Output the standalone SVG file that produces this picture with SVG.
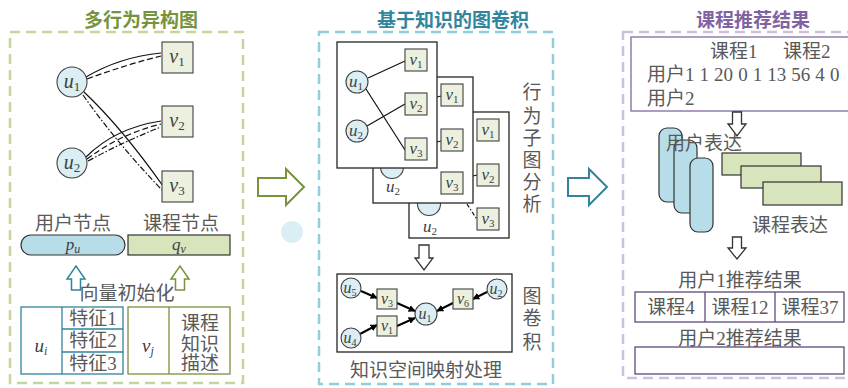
<svg xmlns="http://www.w3.org/2000/svg" width="848" height="388" viewBox="0 0 848 388">
<defs>
<style>
.t{font-family:"Liberation Serif","Noto Sans CJK SC",serif;fill:#595959;font-size:19px}
.ttl{font-family:"Noto Sans CJK SC",sans-serif;font-weight:bold;font-size:19px}
.m{font-family:"Liberation Serif",serif;font-style:italic;fill:#404040}
.s{font-style:normal}
.cir{fill:#daeef3;stroke:#404040;stroke-width:1.1}
.sq{fill:#ebf1de;stroke:#404040;stroke-width:1.1}
.box{fill:#fff;stroke:#262626;stroke-width:1.3}
.e{fill:none;stroke:#111;stroke-width:1.2}
.ar{fill:#fff;stroke:#333;stroke-width:1.3}
</style>
<marker id="ah" viewBox="0 0 10 10" refX="9" refY="5" markerWidth="7" markerHeight="7" orient="auto" markerUnits="userSpaceOnUse">
<path d="M0,0 L10,5 L0,10 Z" fill="#000"/>
</marker>
</defs>
<rect width="848" height="388" fill="#fff"/>
<circle cx="292" cy="232" r="11" fill="#daeef3"/>

<!-- Panel 1 -->
<g id="panel1">
<rect x="10" y="32" width="233" height="351" fill="none" stroke="#c3d69b" stroke-width="2.5" stroke-dasharray="10 6"/>
<text class="ttl" x="141" y="27" text-anchor="middle" fill="#77933c">多行为异构图</text>
</g>
<g id="connectors1">
<path class="e" d="M86,77 Q120,57 161,53"/>
<path class="e" d="M87,79 Q125,65 161,56" stroke-width="2" stroke-dasharray="6 3"/>
<path class="e" d="M84,92 Q122,128 163,186"/>
<path class="e" d="M83,95 Q116,142 162,190" stroke-dasharray="6 2 1.5 2"/>
<path class="e" d="M86,157 Q115,128 161,121"/>
<path class="e" d="M87,159 Q120,134 161,124" stroke-width="2" stroke-dasharray="6 3"/>
<path class="e" d="M88,161 Q125,141 161,127" stroke-dasharray="6 2 1.5 2"/>
</g>
<g id="p1_u1"><circle class="cir" cx="72" cy="82" r="15"/><text class="m" x="72" y="88" font-size="20" text-anchor="middle">u<tspan class="s" font-size="13" dy="3">1</tspan></text></g>
<g id="p1_u2"><circle class="cir" cx="72" cy="163" r="15"/><text class="m" x="72" y="169" font-size="20" text-anchor="middle">u<tspan class="s" font-size="13" dy="3">2</tspan></text></g>
<g id="p1_v1"><rect class="sq" x="162" y="42" width="31" height="31"/><text class="m" x="177" y="63" font-size="20" text-anchor="middle">v<tspan class="s" font-size="13" dy="3">1</tspan></text></g>
<g id="p1_v2"><rect class="sq" x="162" y="106" width="31" height="31"/><text class="m" x="177" y="127" font-size="20" text-anchor="middle">v<tspan class="s" font-size="13" dy="3">2</tspan></text></g>
<g id="p1_v3"><rect class="sq" x="162" y="171" width="31" height="31"/><text class="m" x="177" y="192" font-size="20" text-anchor="middle">v<tspan class="s" font-size="13" dy="3">3</tspan></text></g>
<g id="p1_labels">
<text class="t" x="73" y="230" text-anchor="middle">用户节点</text>
<text class="t" x="181" y="230" text-anchor="middle">课程节点</text>
</g>
<g id="p1_pu"><rect x="21" y="235" width="104" height="20" rx="10" fill="#b7dde8" stroke="#333" stroke-width="1.2"/><text class="m" x="73" y="250" font-size="17" text-anchor="middle">p<tspan font-size="12" dy="3">u</tspan></text></g>
<g id="p1_qv"><rect x="128" y="235" width="102" height="20" fill="#d7e4bc" stroke="#333" stroke-width="1.2"/><text class="m" x="179" y="250" font-size="17" text-anchor="middle">q<tspan font-size="12" dy="3">v</tspan></text></g>
<g id="p1_up">
<path d="M71.5,290 V279 H67 L76,266 L85,279 H80.5 V290 Z" fill="#fff" stroke="#31849b" stroke-width="1.5"/>
<path d="M175.5,290 V279 H171 L180,266 L189,279 H184.5 V290 Z" fill="#fff" stroke="#77933c" stroke-width="1.5"/>
<text class="t" x="127" y="300" text-anchor="middle">向量初始化</text>
</g>
<g id="p1_tableU" fill="none" stroke="#31849b" stroke-width="1.3">
<rect x="21" y="307" width="102" height="67"/>
<line x1="62" y1="307" x2="62" y2="374"/>
<line x1="62" y1="329" x2="123" y2="329"/>
<line x1="62" y1="352" x2="123" y2="352"/>
</g>
<g id="p1_tableU_text">
<text class="m" x="41" y="352" font-size="19" text-anchor="middle">u<tspan font-size="12" dy="3">i</tspan></text>
<text class="t" x="93" y="325" text-anchor="middle">特征1</text>
<text class="t" x="93" y="347" text-anchor="middle">特征2</text>
<text class="t" x="93" y="370" text-anchor="middle">特征3</text>
</g>
<g id="p1_tableV" fill="none" stroke="#77933c" stroke-width="1.3">
<rect x="128" y="307" width="102" height="67"/>
<line x1="169" y1="307" x2="169" y2="374"/>
</g>
<g id="p1_tableV_text">
<text class="m" x="148" y="352" font-size="19" text-anchor="middle">v<tspan font-size="12" dy="3">j</tspan></text>
<text class="t" x="200" y="330" text-anchor="middle">课程</text>
<text class="t" x="200" y="351" text-anchor="middle">知识</text>
<text class="t" x="200" y="370" text-anchor="middle">描述</text>
</g>

<g id="arrow12"><path d="M258,178 H286 V169 L304,187 L286,205 V196 H258 Z" fill="#fff" stroke="#77933c" stroke-width="2"/></g>

<!-- Panel 2 -->
<g id="panel2">
<rect x="319" y="32" width="234" height="352" fill="none" stroke="#92cddc" stroke-width="2.5" stroke-dasharray="10 6"/>
<text class="ttl" x="453" y="27" text-anchor="middle" fill="#31859c">基于知识的图卷积</text>
</g>
<g id="stack3">
<rect class="box" x="409" y="112" width="100" height="126"/>
<circle class="cir" cx="429" cy="204" r="11.5"/>
<text class="m" x="430" y="232" font-size="17" text-anchor="middle" fill="#595959">u<tspan class="s" font-size="11" dy="3">2</tspan></text>
<rect class="sq" x="477" y="119" width="22" height="22"/><text class="m" x="488" y="135" font-size="17" text-anchor="middle">v<tspan class="s" font-size="11" dy="3">1</tspan></text>
<line class="e" x1="473" y1="176" x2="477" y2="175"/>
<rect class="sq" x="477" y="164" width="22" height="22"/><text class="m" x="488" y="180" font-size="17" text-anchor="middle">v<tspan class="s" font-size="11" dy="3">2</tspan></text>
<line class="e" x1="467" y1="204" x2="478" y2="221" stroke-dasharray="4 2 1.5 2"/>
<rect class="sq" x="477" y="208" width="22" height="22"/><text class="m" x="488" y="224" font-size="17" text-anchor="middle">v<tspan class="s" font-size="11" dy="3">3</tspan></text>
</g>
<g id="stack2">
<rect class="box" x="373" y="77" width="100" height="126"/>
<circle class="cir" cx="392" cy="167" r="11.5"/>
<text class="m" x="393" y="192" font-size="17" text-anchor="middle" fill="#595959">u<tspan class="s" font-size="11" dy="3">2</tspan></text>
<line class="e" x1="437" y1="97" x2="441" y2="96"/>
<rect class="sq" x="441" y="84" width="22" height="22"/><text class="m" x="452" y="100" font-size="17" text-anchor="middle">v<tspan class="s" font-size="11" dy="3">1</tspan></text>
<line class="e" x1="437" y1="142" x2="441" y2="141"/>
<rect class="sq" x="441" y="129" width="22" height="22"/><text class="m" x="452" y="145" font-size="17" text-anchor="middle">v<tspan class="s" font-size="11" dy="3">2</tspan></text>
<rect class="sq" x="441" y="172" width="22" height="22"/><text class="m" x="452" y="188" font-size="17" text-anchor="middle">v<tspan class="s" font-size="11" dy="3">3</tspan></text>
</g>
<g id="stack1">
<rect class="box" x="337" y="42" width="100" height="126"/>
<line class="e" x1="368" y1="78" x2="405" y2="61"/>
<line class="e" x1="366" y1="89" x2="405" y2="150"/>
<line class="e" x1="367" y1="126" x2="405" y2="104"/>
<circle class="cir" cx="357" cy="82" r="11"/><text class="m" x="356" y="87" font-size="17" text-anchor="middle">u<tspan class="s" font-size="11" dy="3">1</tspan></text>
<circle class="cir" cx="357" cy="131" r="11"/><text class="m" x="356" y="136" font-size="17" text-anchor="middle">u<tspan class="s" font-size="11" dy="3">2</tspan></text>
<rect class="sq" x="405" y="49" width="22" height="22"/><text class="m" x="416" y="65" font-size="17" text-anchor="middle">v<tspan class="s" font-size="11" dy="3">1</tspan></text>
<rect class="sq" x="405" y="93" width="22" height="22"/><text class="m" x="416" y="109" font-size="17" text-anchor="middle">v<tspan class="s" font-size="11" dy="3">2</tspan></text>
<rect class="sq" x="405" y="138" width="22" height="22"/><text class="m" x="416" y="154" font-size="17" text-anchor="middle">v<tspan class="s" font-size="11" dy="3">3</tspan></text>
</g>
<g id="p2_vtext1">
<text class="t" x="532" y="99" text-anchor="middle">行</text>
<text class="t" x="532" y="123" text-anchor="middle">为</text>
<text class="t" x="532" y="145" text-anchor="middle">子</text>
<text class="t" x="532" y="167" text-anchor="middle">图</text>
<text class="t" x="532" y="189" text-anchor="middle">分</text>
<text class="t" x="532" y="211" text-anchor="middle">析</text>
</g>
<g id="p2_down"><path class="ar" d="M419,245 H429 V258 H433 L424,270 L415,258 H419 Z"/></g>
<g id="gcn">
<rect class="box" x="337" y="274" width="175" height="78"/>
</g>
<g id="gcn_connectors" stroke="#000" stroke-width="2" fill="none" marker-end="url(#ah)">
<line x1="361" y1="291" x2="377" y2="298"/>
<line x1="397" y1="303" x2="415" y2="311"/>
<line x1="397" y1="326" x2="415" y2="318"/>
<line x1="360" y1="334" x2="377" y2="325"/>
<line x1="453" y1="303" x2="437" y2="311"/>
<line x1="487" y1="292" x2="473" y2="299"/>
</g>
<g id="gcn_u5"><circle class="cir" cx="351" cy="288" r="10"/><text class="m" x="350" y="293" font-size="16" text-anchor="middle">u<tspan class="s" font-size="10" dy="3">5</tspan></text></g>
<g id="gcn_u4"><circle class="cir" cx="351" cy="338" r="10"/><text class="m" x="350" y="343" font-size="16" text-anchor="middle">u<tspan class="s" font-size="10" dy="3">4</tspan></text></g>
<g id="gcn_u1"><circle class="cir" cx="426" cy="314" r="11"/><text class="m" x="425" y="319" font-size="16" text-anchor="middle">u<tspan class="s" font-size="10" dy="3">1</tspan></text></g>
<g id="gcn_u2"><circle class="cir" cx="497" cy="289" r="10"/><text class="m" x="496" y="294" font-size="16" text-anchor="middle">u<tspan class="s" font-size="10" dy="3">2</tspan></text></g>
<g id="gcn_v3"><rect class="sq" x="377" y="289" width="20" height="20"/><text class="m" x="387" y="304" font-size="16" text-anchor="middle">v<tspan class="s" font-size="10" dy="3">3</tspan></text></g>
<g id="gcn_v1"><rect class="sq" x="377" y="316" width="20" height="20"/><text class="m" x="387" y="331" font-size="16" text-anchor="middle">v<tspan class="s" font-size="10" dy="3">1</tspan></text></g>
<g id="gcn_v6"><rect class="sq" x="453" y="289" width="20" height="20"/><text class="m" x="463" y="304" font-size="16" text-anchor="middle">v<tspan class="s" font-size="10" dy="3">6</tspan></text></g>
<g id="p2_vtext2">
<text class="t" x="532" y="303" text-anchor="middle">图</text>
<text class="t" x="532" y="325" text-anchor="middle">卷</text>
<text class="t" x="532" y="349" text-anchor="middle">积</text>
</g>
<text class="t" x="426" y="377" text-anchor="middle">知识空间映射处理</text>

<g id="arrow23"><path d="M568,178 H589 V169 L607,187 L589,205 V196 H568 Z" fill="#fff" stroke="#31849b" stroke-width="2"/></g>

<!-- Panel 3 -->
<g id="panel3">
<rect x="623" y="32" width="250" height="346" fill="none" stroke="#ccc1da" stroke-width="2.5" stroke-dasharray="10 6"/>
<text class="ttl" x="753" y="27" text-anchor="middle" fill="#8064a2">课程推荐结果</text>
</g>
<g id="matrix">
<rect x="631" y="37" width="240" height="74" fill="#fff" stroke="#7f6a9f" stroke-width="1.3"/>
<text class="t" x="710" y="58" font-size="18">课程1</text>
<text class="t" x="783" y="58" font-size="18">课程2</text>
<text class="t" x="647" y="81" font-size="18" word-spacing="0.3">用户1 1 20 0 1 13 56 4 0</text>
<text class="t" x="647" y="105" font-size="18">用户2</text>
</g>
<g id="p3_down1"><path class="ar" d="M732.5,112 H741.5 V124 H746 L737,136 L728,124 H732.5 Z"/></g>
<g id="userRep">
<rect x="659" y="128" width="23" height="74" rx="8" fill="#b7dde8" stroke="#333" stroke-width="1.2"/>
<rect x="674" y="140" width="23" height="73" rx="8" fill="#b7dde8" stroke="#333" stroke-width="1.2"/>
<rect x="690" y="158" width="23" height="74" rx="8" fill="#b7dde8" stroke="#333" stroke-width="1.2"/>
<text class="t" x="666" y="150">用户表达</text>
</g>
<g id="courseRep">
<rect x="722" y="153" width="79" height="22" fill="#d7e4bc" stroke="#333" stroke-width="1.2"/>
<rect x="741" y="166" width="80" height="22" fill="#d7e4bc" stroke="#333" stroke-width="1.2"/>
<rect x="763" y="182" width="79" height="23" fill="#d7e4bc" stroke="#333" stroke-width="1.2"/>
<text class="t" x="752" y="232">课程表达</text>
</g>
<g id="p3_down2"><path class="ar" d="M732.5,237 H741.5 V248 H746 L737,259 L728,248 H732.5 Z"/></g>
<g id="result1">
<text class="t" x="740" y="287" text-anchor="middle">用户1推荐结果</text>
<rect x="635" y="292" width="209" height="30" fill="#fff" stroke="#5f497a" stroke-width="1.3"/>
<line x1="705" y1="292" x2="705" y2="322" stroke="#5f497a" stroke-width="1.3"/>
<line x1="775" y1="292" x2="775" y2="322" stroke="#5f497a" stroke-width="1.3"/>
<text class="t" x="671" y="314" text-anchor="middle">课程4</text>
<text class="t" x="740" y="314" text-anchor="middle">课程12</text>
<text class="t" x="810" y="314" text-anchor="middle">课程37</text>
</g>
<g id="result2">
<text class="t" x="740" y="345" text-anchor="middle">用户2推荐结果</text>
<rect x="635" y="347" width="209" height="27" fill="#fff" stroke="#5f497a" stroke-width="1.3"/>
</g>
</svg>
